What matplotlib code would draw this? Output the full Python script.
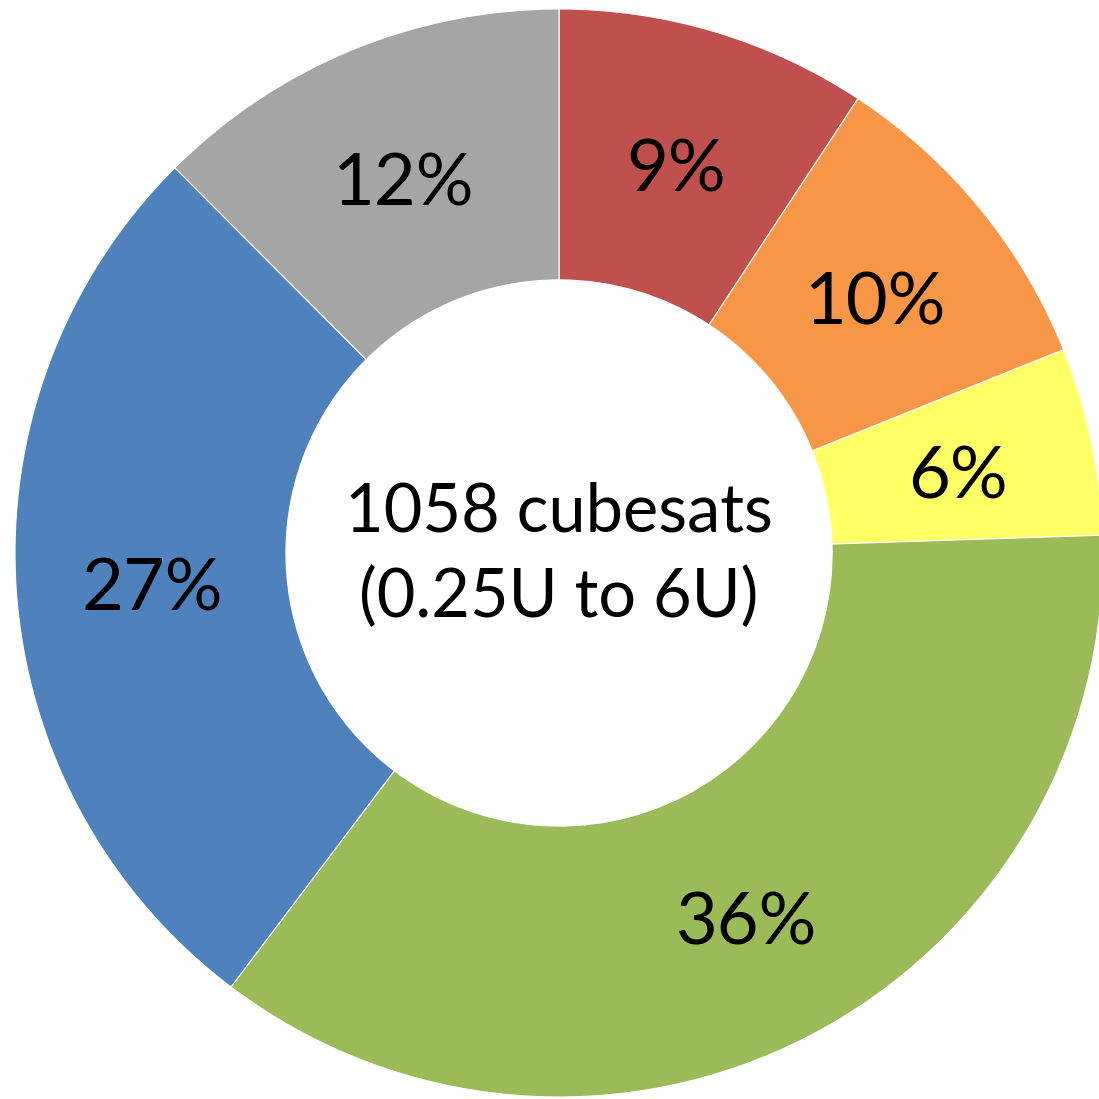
import matplotlib
matplotlib.use('Agg')
import matplotlib.pyplot as plt

# cubesat counts per slice, clockwise from 12 o'clock
counts = [98, 102, 59, 379, 288, 132]
colors = ['#C0504D', '#F79646', '#FFFF66', '#9BBB59', '#4F81BD', '#A5A5A5']
line1 = '1058 cubesats'
line2 = '(0.25U to 6U)'

plt.rcParams['font.family'] = ['Lato', 'DejaVu Sans']

fig = plt.figure(figsize=(10.99, 10.99), dpi=100)
ax = fig.add_axes([0, 0, 1, 1])

wedges, texts, autotexts = ax.pie(
    counts, colors=colors, startangle=90, counterclock=False,
    radius=1.0, autopct=lambda p: '%d%%' % round(p), pctdistance=0.75,
    wedgeprops=dict(width=0.498, edgecolor='white', linewidth=0.8),
    textprops=dict(fontsize=52, color='black'))

# nudge labels down a little (baseline of the label font)
for t in autotexts:
    x, y = t.get_position()
    t.set_position((x, y - 0.017))

ax.text(0, 0.075, line1, ha='center', va='center', fontsize=48, color='black')
ax.text(0, -0.083, line2, ha='center', va='center', fontsize=48, color='black')

ax.set_aspect('equal')
ax.set_xlim(-1.0276, 0.9926)
ax.set_ylim(-1.0037, 1.0165)
ax.axis('off')

fig.savefig('out.png', dpi=100, facecolor='white')
